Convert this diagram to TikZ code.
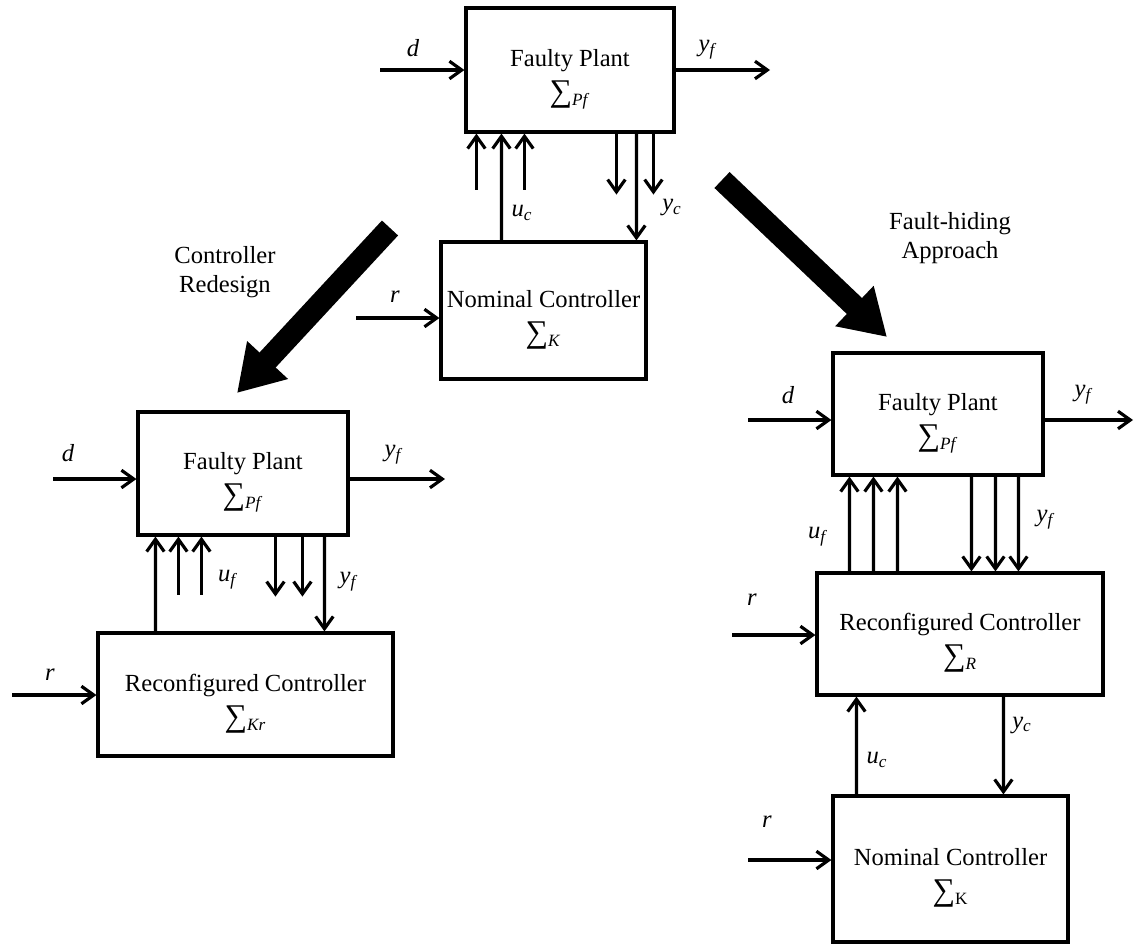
\documentclass[tikz,border=0pt]{standalone}
\usepackage{fontspec}
\setmainfont{Liberation Serif}
\usetikzlibrary{arrows.meta,calc}
\newcommand{\sumsym}{{\fontsize{18}{20}\selectfont ∑}}
\begin{document}
\begin{tikzpicture}[x=0.02cm,y=-0.02cm,
    blk/.style={draw,line width=1.8pt,inner sep=0pt,align=center,text height=40pt,font=\fontsize{14}{20}\selectfont},
    sig/.style={line width=1.8pt,-{Straight Barb[length=7pt,width=10pt]}},
    bigarrow/.style={line width=0.44cm,-{Triangle[length=0.9cm,width=1.05cm]}},
    lbl/.style={inner sep=0pt,font=\fontsize{14}{17}\selectfont\itshape},
    note/.style={inner sep=0pt,align=center,font=\fontsize{14}{16.5}\selectfont}]
  \useasboundingbox (0,0) rectangle (1135,944);
  % original loop
  \node[blk,minimum width=4.16cm,minimum height=2.48cm] (P0) at (570,70) {Faulty Plant\\\sumsym\textsubscript{\textit{Pf}}};
  \node[blk,minimum width=4.1cm,minimum height=2.74cm] (K0) at (543.5,310.5) {Nominal Controller\\\sumsym\textsubscript{\textit{K}}};
  \coordinate (d0) at (380,70);
  \coordinate (yf0) at (770,70);
  \coordinate (r0) at (356,318);
  \draw[sig] (d0) -- (P0.west);
  \draw[sig] (P0.east) -- (yf0);
  \draw[sig] (r0) -- (r0 -| K0.west);
  \foreach \o in {12,60}
    \draw[sig] ($(P0.south west)+(\o,56)$) -- ($(P0.south west)+(\o,0)$);
  \draw[sig] ($(K0.north west)+(62,0)$) -- ($(P0.south west)+(37,0)$);
  \foreach \o in {152,189}
    \draw[sig] ($(P0.south west)+(\o,0)$) -- ($(P0.south west)+(\o,61)$);
  \draw[sig] ($(P0.south west)+(172,0)$) -- ($(K0.north west)+(197,0)$);
  \node[lbl] (ld0) at (413,48) {d};
  \node[lbl] (lyf0) at (707,50) {y\textsubscript{f}};
  \node[lbl] (luc0) at (522,213) {u\textsubscript{c}};
  \node[lbl] (lyc0) at (672,208) {y\textsubscript{c}};
  \node[lbl] (lr0) at (395,297) {r};

  % the two ways out
  \coordinate (cr0) at (390,228);
  \coordinate (cr1) at (237,393);
  \coordinate (fh0) at (722,180);
  \coordinate (fh1) at (887,337);
  \draw[bigarrow] (cr0) -- (cr1);
  \draw[bigarrow] (fh0) -- (fh1);
  \node[note] (ncr) at (225,272) {Controller\\Redesign};
  \node[note] (nfh) at (950,238) {Fault-hiding\\Approach};

  % controller redesign
  \node[blk,minimum width=4.2cm,minimum height=2.46cm] (P1) at (243,473.5) {Faulty Plant\\\sumsym\textsubscript{\textit{Pf}}};
  \node[blk,minimum width=5.9cm,minimum height=2.46cm] (R1) at (245.5,694.5) {Reconfigured Controller\\\sumsym\textsubscript{\textit{Kr}}};
  \coordinate (d1) at (53,479);
  \coordinate (yf1) at (445,479);
  \coordinate (r1) at (12,695);
  \draw[sig] (d1) -- (d1 -| P1.west);
  \draw[sig] (yf1 -| P1.east) -- (yf1);
  \draw[sig] (r1) -- (r1 -| R1.west);
  \draw[sig] ($(R1.north west)+(59,0)$) -- ($(P1.south west)+(19,0)$);
  \foreach \o in {42,65}
    \draw[sig] ($(P1.south west)+(\o,58)$) -- ($(P1.south west)+(\o,0)$);
  \foreach \o in {139,166}
    \draw[sig] ($(P1.south west)+(\o,0)$) -- ($(P1.south west)+(\o,60)$);
  \draw[sig] ($(P1.south west)+(188,0)$) -- ($(R1.north west)+(228,0)$);
  \node[lbl] (ld1) at (68,453) {d};
  \node[lbl] (lyf1) at (393,455) {y\textsubscript{f}};
  \node[lbl] (luf1) at (227,580) {u\textsubscript{f}};
  \node[lbl] (lyf1b) at (348,582) {y\textsubscript{f}};
  \node[lbl] (lr1) at (50,675) {r};

  % fault hiding
  \node[blk,minimum width=4.2cm,minimum height=2.44cm] (P2) at (938,414) {Faulty Plant\\\sumsym\textsubscript{\textit{Pf}}};
  \node[blk,minimum width=5.72cm,minimum height=2.44cm] (R2) at (960,634) {Reconfigured Controller\\\sumsym\textsubscript{\textit{R}}};
  \node[blk,minimum width=4.7cm,minimum height=2.92cm] (K2) at (950.5,869) {Nominal Controller\\\sumsym\textsubscript{K}};
  \coordinate (d2) at (748,420);
  \coordinate (yf2) at (1133,420);
  \coordinate (r2) at (732,635);
  \coordinate (r3) at (748,860);
  \draw[sig] (d2) -- (d2 -| P2.west);
  \draw[sig] (yf2 -| P2.east) -- (yf2);
  \draw[sig] (r2) -- (r2 -| R2.west);
  \draw[sig] (r3) -- (r3 -| K2.west);
  \foreach \o in {18,42,66}
    \draw[sig] ($(R2.north west)+(\o+16,0)$) -- ($(P2.south west)+(\o,0)$);
  \foreach \o in {140,164,187}
    \draw[sig] ($(P2.south west)+(\o,0)$) -- ($(R2.north west)+(\o+16,0)$);
  \draw[sig] ($(K2.north west)+(25,0)$) -- ($(R2.south west)+(41,0)$);
  \draw[sig] ($(R2.south west)+(188,0)$) -- ($(K2.north west)+(172,0)$);
  \node[lbl] (ld2) at (788,395) {d};
  \node[lbl] (lyf2) at (1083,395) {y\textsubscript{f}};
  \node[lbl] (luf2) at (817,537) {u\textsubscript{f}};
  \node[lbl] (lyf2b) at (1045,520) {y\textsubscript{f}};
  \node[lbl] (lr2) at (752,600) {r};
  \node[lbl] (luc2) at (877,760) {u\textsubscript{c}};
  \node[lbl] (lyc2) at (1022,725) {y\textsubscript{c}};
  \node[lbl] (lr3) at (767,822) {r};
\end{tikzpicture}
\end{document}
